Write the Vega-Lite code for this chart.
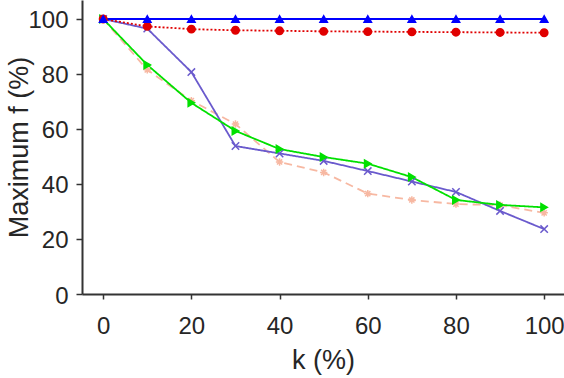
{
  "$schema": "https://vega.github.io/schema/vega-lite/v6.json",
  "width": 482,
  "height": 294,
  "autosize": {"type": "none"},
  "padding": {"left": 82, "top": 0, "right": 0, "bottom": 84},
  "background": "white",
  "config": {
    "view": {"stroke": null},
    "font": "Liberation Sans",
    "axis": {
      "grid": false,
      "domainColor": "#333333",
      "domainWidth": 2,
      "tickColor": "#333333",
      "tickWidth": 1.5,
      "tickSize": 6,
      "labelFont": "Liberation Sans",
      "titleFont": "Liberation Sans",
      "labelFontSize": 24,
      "titleFontSize": 27,
      "labelColor": "#262626",
      "titleColor": "#262626",
      "titleFontWeight": "normal"
    }
  },
  "data": {
    "values": [
      {"s": "E", "k": 0, "f": 100}, {"s": "E", "k": 10, "f": 81.5}, {"s": "E", "k": 20, "f": 70.3}, {"s": "E", "k": 30, "f": 61.8}, {"s": "E", "k": 40, "f": 48}, {"s": "E", "k": 50, "f": 44.2}, {"s": "E", "k": 60, "f": 36.5}, {"s": "E", "k": 70, "f": 34.2}, {"s": "E", "k": 80, "f": 32.7}, {"s": "E", "k": 90, "f": 32.3}, {"s": "E", "k": 100, "f": 29.5},
      {"s": "D", "k": 0, "f": 100}, {"s": "D", "k": 10, "f": 96.5}, {"s": "D", "k": 20, "f": 80.7}, {"s": "D", "k": 30, "f": 53.8}, {"s": "D", "k": 40, "f": 51.1}, {"s": "D", "k": 50, "f": 48.4}, {"s": "D", "k": 60, "f": 44.7}, {"s": "D", "k": 70, "f": 40.9}, {"s": "D", "k": 80, "f": 37.1}, {"s": "D", "k": 90, "f": 30.2}, {"s": "D", "k": 100, "f": 23.6},
      {"s": "C", "k": 0, "f": 100}, {"s": "C", "k": 10, "f": 83.3}, {"s": "C", "k": 20, "f": 69.5}, {"s": "C", "k": 30, "f": 59.3}, {"s": "C", "k": 40, "f": 52.7}, {"s": "C", "k": 50, "f": 49.8}, {"s": "C", "k": 60, "f": 47.4}, {"s": "C", "k": 70, "f": 42.5}, {"s": "C", "k": 80, "f": 34.2}, {"s": "C", "k": 90, "f": 32.4}, {"s": "C", "k": 100, "f": 31.5},
      {"s": "B", "k": 0, "f": 100}, {"s": "B", "k": 10, "f": 97.3}, {"s": "B", "k": 20, "f": 96.3}, {"s": "B", "k": 30, "f": 95.9}, {"s": "B", "k": 40, "f": 95.7}, {"s": "B", "k": 50, "f": 95.5}, {"s": "B", "k": 60, "f": 95.4}, {"s": "B", "k": 70, "f": 95.3}, {"s": "B", "k": 80, "f": 95.2}, {"s": "B", "k": 90, "f": 95.1}, {"s": "B", "k": 100, "f": 95.0},
      {"s": "A", "k": 0, "f": 100}, {"s": "A", "k": 10, "f": 100}, {"s": "A", "k": 20, "f": 100}, {"s": "A", "k": 30, "f": 100}, {"s": "A", "k": 40, "f": 100}, {"s": "A", "k": 50, "f": 100}, {"s": "A", "k": 60, "f": 100}, {"s": "A", "k": 70, "f": 100}, {"s": "A", "k": 80, "f": 100}, {"s": "A", "k": 90, "f": 100}, {"s": "A", "k": 100, "f": 100}
    ]
  },
  "encoding": {
    "x": {
      "field": "k", "type": "quantitative",
      "scale": {"domain": [-4.8, 104.5], "nice": false, "zero": false},
      "axis": {"values": [0, 20, 40, 60, 80, 100], "title": "k (%)", "labelPadding": 15, "titleY": 53, "labelFlush": false, "tickSize": 5}
    },
    "y": {
      "field": "f", "type": "quantitative",
      "scale": {"domain": [0, 106.9], "nice": false},
      "axis": {"values": [0, 20, 40, 60, 80, 100], "title": "Maximum f (%)", "labelPadding": 8, "labelOffset": 2, "titleX": -49}
    }
  },
  "layer": [
    {
      "mark": {"type": "line", "strokeWidth": 1.8},
      "encoding": {
        "color": {
          "field": "s", "type": "nominal", "legend": null,
          "scale": {"domain": ["A", "B", "C", "D", "E"], "range": ["#0000ff", "#e00000", "#00e000", "#6a5acd", "#f7b8a2"]}
        },
        "strokeDash": {
          "field": "s", "type": "nominal", "legend": null,
          "scale": {"domain": ["A", "B", "C", "D", "E"], "range": [[1, 0], [2, 2], [1, 0], [1, 0], [8, 5]]}
        },
        "order": {"field": "k"}
      }
    },
    {
      "mark": {"type": "point", "filled": true, "opacity": 1, "strokeWidth": 1.5},
      "encoding": {
        "color": {"field": "s", "type": "nominal", "legend": null},
        "stroke": {"field": "s", "type": "nominal", "legend": null, "scale": {"domain": ["A", "B", "C", "D", "E"], "range": ["#0000ff", "#e00000", "#00e000", "#6a5acd", "#f7b8a2"]}},
        "shape": {
          "field": "s", "type": "nominal", "legend": null,
          "scale": {"domain": ["A", "B", "C", "D", "E"], "range": ["triangle-up", "circle", "triangle-right", "M-1,-1L1,1M-1,1L1,-1", "M-1,0L1,0M0,-1L0,1M-0.7,-0.7L0.7,0.7M-0.7,0.7L0.7,-0.7"]}
        },
        "size": {
          "field": "s", "type": "nominal", "legend": null,
          "scale": {"domain": ["A", "B", "C", "D", "E"], "range": [55, 55, 75, 45, 70]}
        }
      }
    }
  ]
}
